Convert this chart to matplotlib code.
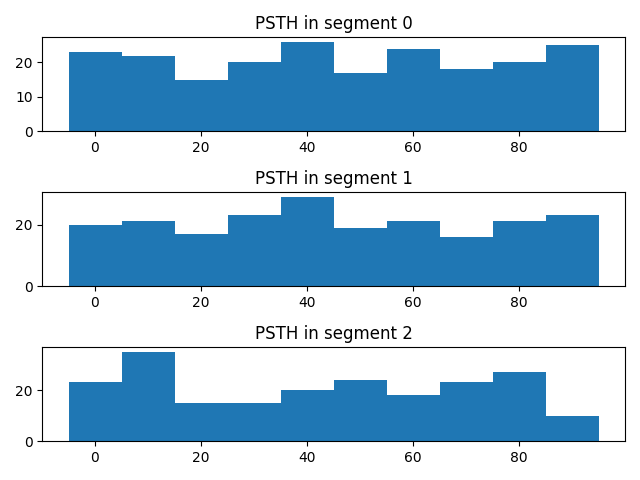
import numpy as np
import matplotlib
matplotlib.use("Agg")
import matplotlib.pyplot as plt

# bin edges shared by all segments (10 bins, roughly -5 .. 95 ms)
bin_edges = np.linspace(-4.85, 94.95, 11)

# spike counts per bin
seg0_counts = [23, 22, 15, 20, 26, 17, 24, 18, 20, 25]
seg1_counts = [20, 21, 17, 23, 29, 19, 21, 16, 21, 23]
seg2_counts = [23, 35, 15, 15, 20, 24, 18, 23, 27, 10]
segments = [seg0_counts, seg1_counts, seg2_counts]

bin_centers = (bin_edges[:-1] + bin_edges[1:]) / 2

fig, axes = plt.subplots(3, 1, figsize=(6.4, 4.8))
for i, (ax, counts) in enumerate(zip(axes, segments)):
    ax.hist(bin_centers, bins=bin_edges, weights=counts)
    ax.set_title(f"PSTH in segment {i}")

plt.tight_layout()
plt.savefig("out.png", dpi=100)
